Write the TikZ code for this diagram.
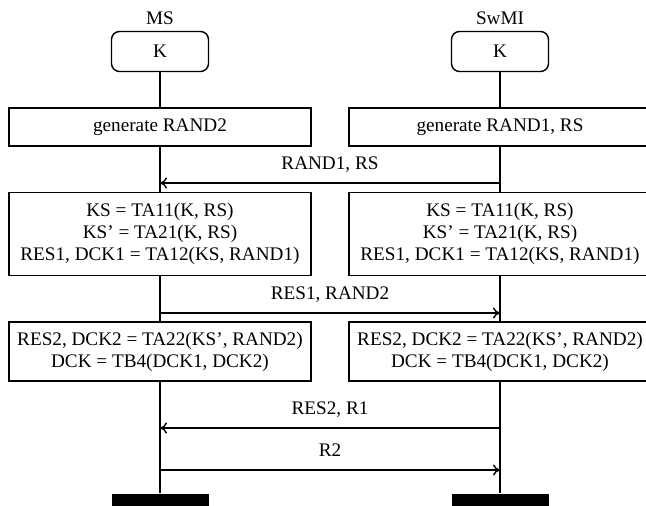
\documentclass[tikz,border=0pt]{standalone}
\usepackage{fontspec}
\setmainfont{Liberation Serif}
\usetikzlibrary{arrows.meta}
\begin{document}
\begin{tikzpicture}[x=0.5pt,y=-0.5pt, line width=0.7pt,
  font=\fontsize{9.6}{11}\selectfont,
  keybox/.style={draw, rounded corners=4pt, minimum width=48.5pt, minimum height=20pt, inner sep=0pt},
  procbox/.style={draw, fill=white, align=center, minimum width=151pt, inner sep=0pt},
  barbox/.style={fill=black, draw=none, minimum width=48.5pt, minimum height=7pt, inner sep=0pt},
  msg/.style={-{To[length=3.5pt,width=5.5pt]}},
  msglabel/.style={midway, anchor=base, yshift=6.75pt}]
\useasboundingbox (0,0) rectangle (646,505);
\clip (0,0) rectangle (646,505);

% headers
\node (msl) at (160,18) {MS};
\node (swl) at (500,18) {SwMI};
\node[keybox] (mk) at (160,51.5) {K};
\node[keybox] (sk) at (500,51.5) {K};

% process boxes
\node[procbox, minimum height=19pt] (mb1) at (160,127) {generate RAND2};
\node[procbox, minimum height=19pt] (sb1) at (500,127) {generate RAND1, RS};
\node[procbox, minimum height=41.5pt] (mb2) at (160,234) {KS = TA11(K, RS)\\KS' = TA21(K, RS)\\RES1, DCK1 = TA12(KS, RAND1)};
\node[procbox, minimum height=41.5pt] (sb2) at (500,234) {KS = TA11(K, RS)\\KS' = TA21(K, RS)\\RES1, DCK1 = TA12(KS, RAND1)};
\node[procbox, minimum height=29.5pt] (mb3) at (160,351.5) {RES2, DCK2 = TA22(KS', RAND2)\\DCK = TB4(DCK1, DCK2)};
\node[procbox, minimum height=29.5pt] (sb3) at (500,351.5) {RES2, DCK2 = TA22(KS', RAND2)\\DCK = TB4(DCK1, DCK2)};

% end bars
\node[barbox] (mend) at (160,501) {};
\node[barbox] (send) at (500,501) {};

% lifelines
\draw (mk.south) -- (mb1.north);
\draw (mb1.south) -- (mb2.north);
\draw (mb2.south) -- (mb3.north);
\draw (mb3.south) -- (mend.north);
\draw (sk.south) -- (sb1.north);
\draw (sb1.south) -- (sb2.north);
\draw (sb2.south) -- (sb3.north);
\draw (sb3.south) -- (send.north);

% message end points
\coordinate (s1) at (500,183); \coordinate (m1) at (160,183);
\coordinate (m2) at (160,313); \coordinate (s2) at (500,313);
\coordinate (s3) at (500,428); \coordinate (m3) at (160,428);
\coordinate (m4) at (160,470); \coordinate (s4) at (500,470);

\draw[msg] (s1) -- node[msglabel] (l1) {RAND1, RS} (m1);
\draw[msg] (m2) -- node[msglabel] (l2) {RES1, RAND2} (s2);
\draw[msg] (s3) -- node[msglabel] (l3) {RES2, R1} (m3);
\draw[msg] (m4) -- node[msglabel] (l4) {R2} (s4);
\end{tikzpicture}
\end{document}
